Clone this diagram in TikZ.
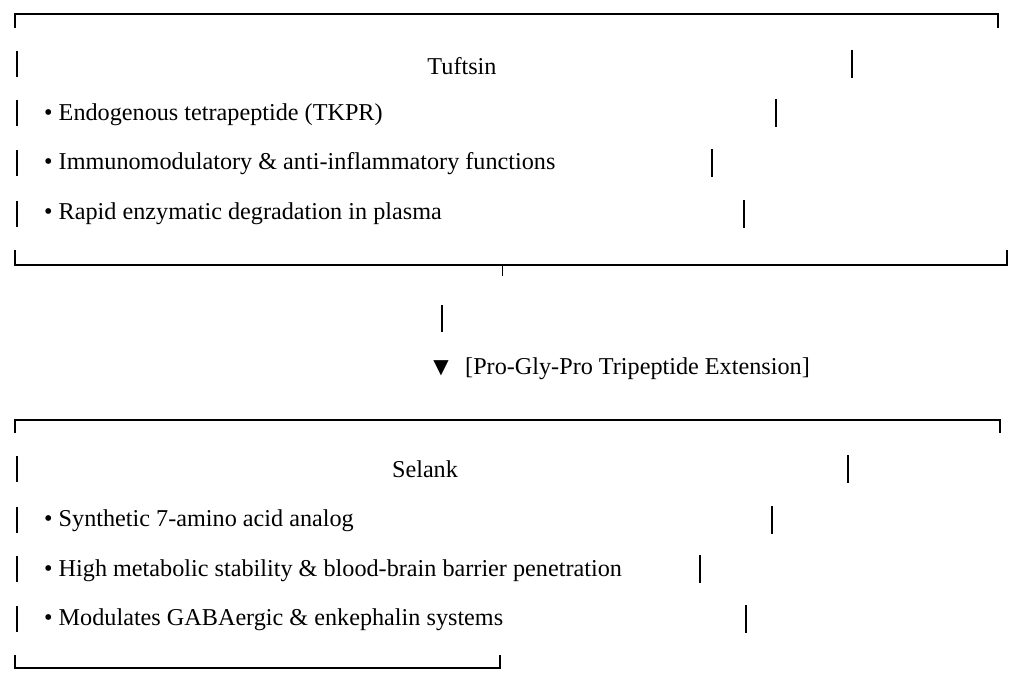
\documentclass[tikz,border=0pt]{standalone}
\usepackage{fontspec}
\setmainfont{Liberation Serif}
\newfontfamily\symf{DejaVu Sans}
\begin{document}
\begin{tikzpicture}[x=1pt,y=-1pt,
  ln/.style={line width=1.6pt,black},
  tx/.style={anchor=west,inner sep=0pt,font=\fontsize{24.2}{28}\selectfont},
  ct/.style={anchor=center,inner sep=0pt,font=\fontsize{24.2}{28}\selectfont}]
\useasboundingbox (0,0) rectangle (1024,687);
% top box
\draw[ln] (15,28) -- (15,14) -- (998,14) -- (998,28);
\draw[ln] (15,250) -- (15,265) -- (1007,265) -- (1007,250);
\draw[line width=1pt] (490,265) -- (514,265);
\draw[line width=1pt] (502,265) -- (502,276);
\node[ct] (t) at (462,66) {Tuftsin};
\node[tx] (t1) at (44,115) {• Endogenous tetrapeptide (TKPR)};
\node[tx] (t2) at (44,164) {• Immunomodulatory \& anti-inflammatory functions};
\node[tx] (t3) at (44,214) {• Rapid enzymatic degradation in plasma};
\foreach \y/\r in {64/852,113/776,163/712,214/744}{
  \draw[ln] (17,\y-13) -- (17,\y+13);
  \draw[ln] (\r,\y-14) -- (\r,\y+14);
}
% arrow
\draw[ln] (442,305) -- (442,332);
\node[inner sep=0pt,font=\symf\fontsize{20}{22}\selectfont] (a) at (441,368) {▼};
\node[tx] (al) at (465,369) {[Pro-Gly-Pro Tripeptide Extension]};
% lower box
\draw[ln] (15,433) -- (15,420) -- (1000,420) -- (1000,433);
\draw[ln] (15,655) -- (15,668) -- (500,668) -- (500,655);
\node[ct] (s) at (425,469) {Selank};
\node[tx] (s1) at (44,521) {• Synthetic 7-amino acid analog};
\node[tx] (s2) at (44,571) {• High metabolic stability \& blood-brain barrier penetration};
\node[tx] (s3) at (44,620) {• Modulates GABAergic \& enkephalin systems};
\foreach \y/\r in {469/848,520/772,569/700,619/746}{
  \draw[ln] (17,\y-13) -- (17,\y+13);
  \draw[ln] (\r,\y-14) -- (\r,\y+14);
}
\end{tikzpicture}
\end{document}
